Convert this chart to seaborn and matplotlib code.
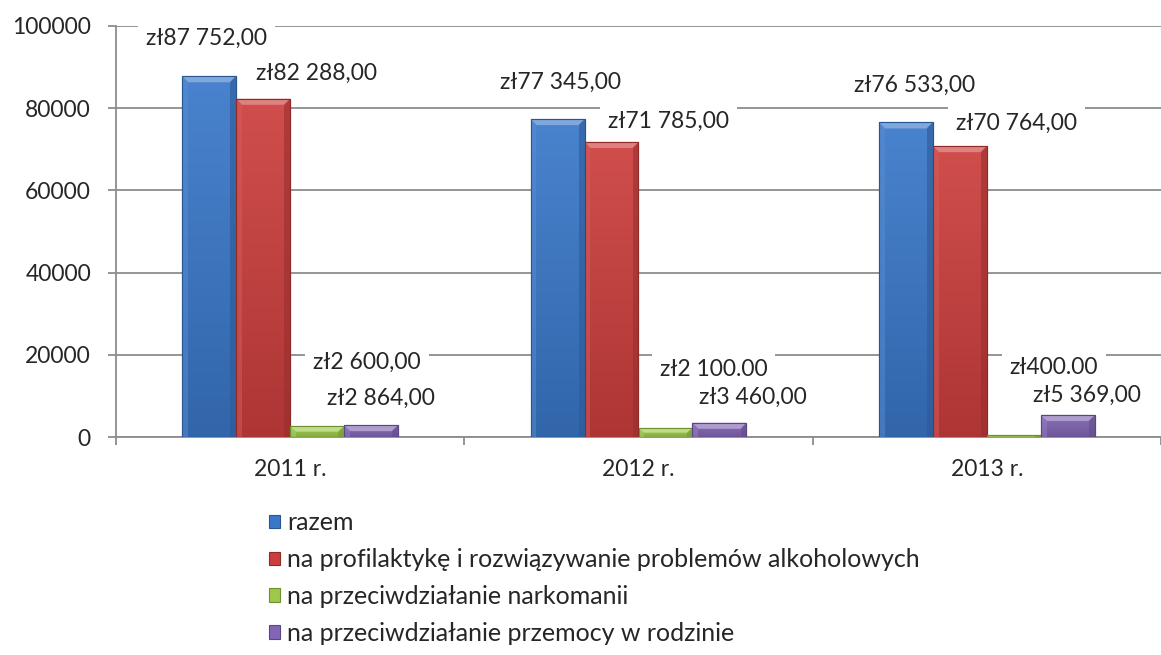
import numpy as np
import pandas as pd
import seaborn as sns
import matplotlib.pyplot as plt
from matplotlib.colors import to_rgb
from matplotlib.patches import Polygon

# Dane z wykresu
lata = ["2011 r.", "2012 r.", "2013 r."]
serie = [
    "razem",
    "na profilaktykę i rozwiązywanie problemów alkoholowych",
    "na przeciwdziałanie narkomanii",
    "na przeciwdziałanie przemocy w rodzinie",
]
razem = [87752, 77345, 76533]
alkohol = [82288, 71785, 70764]
narkomania = [2600, 2100, 400]
przemoc = [2864, 3460, 5369]

etykiety_razem = ["zł87 752,00", "zł77 345,00", "zł76 533,00"]
etykiety_alkohol = ["zł82 288,00", "zł71 785,00", "zł70 764,00"]
etykiety_narkomania = ["zł2 600,00", "zł2 100.00", "zł400.00"]
etykiety_przemoc = ["zł2 864,00", "zł3 460,00", "zł5 369,00"]

kolory = ["#3A78C9", "#CC3F3D", "#9DC94A", "#8266B5"]
krawedzie = ["#2A568F", "#8E2A28", "#6E8E30", "#5A4682"]

# przesunięcia etykiet (piksele) względem szczytu słupka
przesuniecia = [
    [(-3, 38), (3, 37), (9, 37)],
    [(53, 25), (57, 21), (57, 23)],
    [(50, 64), (48, 59), (40, 68)],
    [(10, 27), (33, 25), (19, 20)],
]

wartosci = [razem, alkohol, narkomania, przemoc]
etykiety = [etykiety_razem, etykiety_alkohol, etykiety_narkomania, etykiety_przemoc]

rows = []
for s, vals in zip(serie, wartosci):
    for rok, v in zip(lata, vals):
        rows.append({"Rok": rok, "Seria": s, "Kwota": v})
df = pd.DataFrame(rows)

sns.set_style("white")
plt.rcParams["font.family"] = ["Lato", "DejaVu Sans"]
FS = 16.5

fig = plt.figure(figsize=(11.61, 6.55), dpi=100)
ax = fig.add_axes([116 / 1161, 1 - 437 / 655, 1045 / 1161, 411 / 655])

sns.barplot(data=df, x="Rok", y="Kwota", hue="Seria", hue_order=serie,
            palette=kolory, width=0.62, ax=ax, legend=False, zorder=3,
            saturation=1)

XMAX = -0.5 + 1045 / 352
ax.set_ylim(0, 100000)
ax.set_xlim(-0.5, XMAX)
px_x = (XMAX + 0.5) / 1045
px_y = 100000 / 411


def jasniej(c, f):
    r = np.array(to_rgb(c))
    return tuple(r + (1 - r) * f)


def ciemniej(c, f):
    return tuple(np.array(to_rgb(c)) * (1 - f))


# gradient + fazowanie słupków
for cont, kol, edge in zip(ax.containers, kolory, krawedzie):
    grad = np.linspace(0, 1, 64).reshape(-1, 1)
    c_top = np.array(jasniej(kol, 0.08))
    c_bot = np.array(ciemniej(kol, 0.15))
    img = c_bot + (c_top - c_bot) * grad
    img = img.reshape(64, 1, 3)
    for p in cont:
        p.set_edgecolor(edge)
        p.set_linewidth(0.8)
        x0, w, h = p.get_x(), p.get_width(), p.get_height()
        im = ax.imshow(img, extent=(x0, x0 + w, 0, h), origin="lower",
                       aspect="auto", zorder=3.1, interpolation="bilinear")
        im.set_clip_path(p)
        b = min(6 * px_x, w / 2)
        by = min(6 * px_y, h / 2)
        ax.add_patch(Polygon([(x0, h), (x0 + w, h), (x0 + w - b, h - by), (x0 + b, h - by)],
                             closed=True, fc=jasniej(kol, 0.35), ec="none", zorder=3.2))
        ax.add_patch(Polygon([(x0 + w, h), (x0 + w, 0), (x0 + w - b, 0), (x0 + w - b, h - by)],
                             closed=True, fc=ciemniej(kol, 0.25), ec="none", zorder=3.2, alpha=0.6))
        ax.add_patch(Polygon([(x0, h), (x0, 0), (x0 + b, 0), (x0 + b, h - by)],
                             closed=True, fc=jasniej(kol, 0.15), ec="none", zorder=3.2, alpha=0.5))
        ax.add_patch(plt.Rectangle((x0, 0), w, h, fc="none", ec=edge, lw=0.8, zorder=3.3))

ax.set_ylim(0, 100000)
ax.set_xlim(-0.5, XMAX)
ax.set_yticks(range(0, 100001, 20000))
ax.yaxis.grid(True, color="#8C8C8C", linewidth=1.3, zorder=0)
ax.set_axisbelow(True)

ax.set_xticks([-0.5, 0.5, 1.5, 2.5])
ax.set_xticklabels([])
ax.set_xticks([0, 1, 2], minor=True)
ax.set_xticklabels(lata, minor=True)
ax.tick_params(axis="x", which="major", length=6, width=1.3, color="#8C8C8C", direction="out", bottom=True)
ax.tick_params(axis="x", which="minor", length=0, pad=16, labelsize=FS)
ax.tick_params(axis="y", length=6, width=1.3, color="#8C8C8C", direction="out", left=True, pad=12, labelsize=FS)

for side in ["top", "right"]:
    ax.spines[side].set_visible(False)
for side in ["left", "bottom"]:
    ax.spines[side].set_color("#8C8C8C")
    ax.spines[side].set_linewidth(1.3)
ax.set_xlabel("")
ax.set_ylabel("")

for cont, labs, offs in zip(ax.containers, etykiety, przesuniecia):
    for p, lab, (dx, dy) in zip(cont, labs, offs):
        x = p.get_x() + p.get_width() / 2
        y = p.get_height()
        ax.annotate(lab, (x, y), xytext=(dx, dy), textcoords="offset pixels",
                    ha="center", va="center", fontsize=FS, zorder=5,
                    bbox=dict(boxstyle="square,pad=0.35", fc="white", ec="none"))

uchwyty = [plt.Rectangle((0, 0), 1, 1, fc=c, ec=e, lw=0.8) for c, e in zip(kolory, krawedzie)]
fig.legend(uchwyty, serie, loc="upper left", bbox_to_anchor=(256 / 1161, 1 - 499 / 655),
           frameon=False, handlelength=0.45, handleheight=0.45, handletextpad=0.3,
           labelspacing=0.55, borderpad=0, fontsize=18)

fig.savefig("out.png", dpi=100)
